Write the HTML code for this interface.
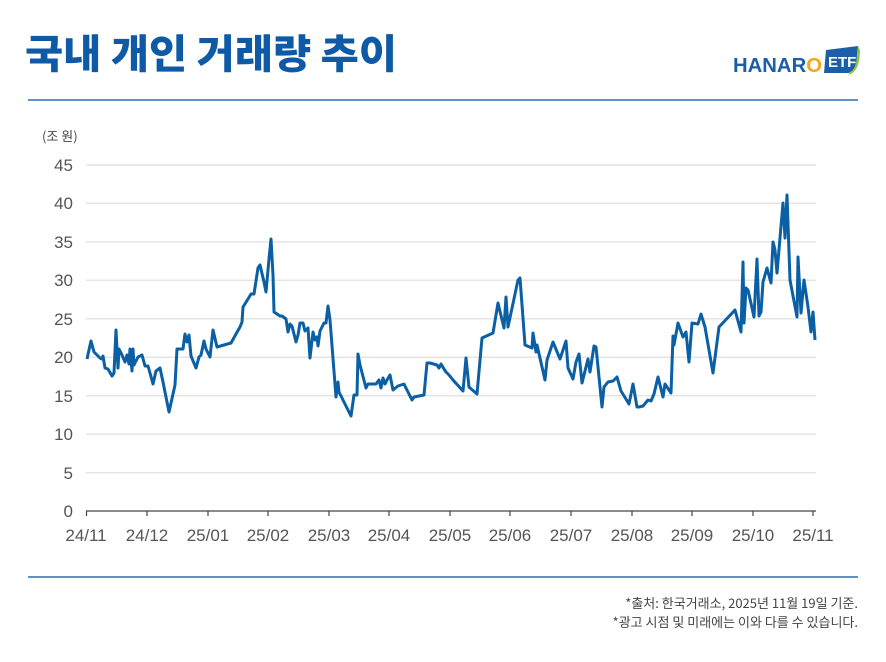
<!DOCTYPE html>
<html><head><meta charset="utf-8"><style>
body{margin:0;background:#fff;width:886px;height:657px;overflow:hidden;font-family:"Liberation Sans","Noto Sans CJK KR",sans-serif}
</style></head><body>
<svg width="886" height="657" xmlns="http://www.w3.org/2000/svg" font-family="Liberation Sans, Noto Sans CJK KR, sans-serif">
<text x="25" y="68" font-size="40" font-weight="900" fill="#0e5aa7" textLength="372" lengthAdjust="spacingAndGlyphs" font-family="Noto Sans CJK KR, sans-serif">국내 개인 거래량 추이</text>
<text x="733" y="72" font-size="20" font-weight="bold" fill="#1a5ea8" textLength="89" lengthAdjust="spacingAndGlyphs">HANAR<tspan fill="#f3a81b">O</tspan></text>
<path d="M826 50 L858 46 L856 66 Q855 72 848 73 L824 73 Z" fill="#1c5fa8"/>
<path d="M850 72 Q857 70 858 46 L860 50 Q860 72 848 75 Z" fill="#8dc63f"/>
<text x="828" y="67" font-size="15" font-weight="bold" fill="#fff">ETF</text>
<line x1="28" y1="100" x2="858" y2="100" stroke="#2a6fb5" stroke-width="1.5"/>
<line x1="28" y1="577" x2="858" y2="577" stroke="#2a6fb5" stroke-width="1.5"/>
<text x="42" y="141" font-size="13" fill="#444" font-family="Noto Sans CJK KR, sans-serif">(조 원)</text>
<g stroke="#e4e4e4" stroke-width="1.5">
<line x1="86" x2="816" y1="472.6" y2="472.6"/><line x1="86" x2="816" y1="434.1" y2="434.1"/>
<line x1="86" x2="816" y1="395.7" y2="395.7"/><line x1="86" x2="816" y1="357.2" y2="357.2"/>
<line x1="86" x2="816" y1="318.8" y2="318.8"/><line x1="86" x2="816" y1="280.3" y2="280.3"/>
<line x1="86" x2="816" y1="241.9" y2="241.9"/><line x1="86" x2="816" y1="203.4" y2="203.4"/>
<line x1="86" x2="816" y1="165" y2="165"/>
</g>
<g font-size="17" fill="#555" text-anchor="end">
<text x="73" y="517">0</text><text x="73" y="479">5</text><text x="73" y="440">10</text>
<text x="73" y="402">15</text><text x="73" y="363">20</text><text x="73" y="325">25</text>
<text x="73" y="286">30</text><text x="73" y="248">35</text><text x="73" y="209">40</text>
<text x="73" y="171">45</text>
</g>
<line x1="86" y1="511" x2="816" y2="511" stroke="#444" stroke-width="1.2"/>
<g stroke="#444" stroke-width="1.2">
<line x1="86.5" y1="511" x2="86.5" y2="516"/><line x1="147" y1="511" x2="147" y2="516"/>
<line x1="208" y1="511" x2="208" y2="516"/><line x1="268" y1="511" x2="268" y2="516"/>
<line x1="329" y1="511" x2="329" y2="516"/><line x1="389" y1="511" x2="389" y2="516"/>
<line x1="450" y1="511" x2="450" y2="516"/><line x1="510" y1="511" x2="510" y2="516"/>
<line x1="571" y1="511" x2="571" y2="516"/><line x1="632" y1="511" x2="632" y2="516"/>
<line x1="692" y1="511" x2="692" y2="516"/><line x1="753" y1="511" x2="753" y2="516"/>
<line x1="813" y1="511" x2="813" y2="516"/>
</g>
<g font-size="17" fill="#555" text-anchor="middle">
<text x="86" y="541">24/11</text><text x="147" y="541">24/12</text><text x="208" y="541">25/01</text>
<text x="268" y="541">25/02</text><text x="329" y="541">25/03</text><text x="389" y="541">25/04</text>
<text x="450" y="541">25/05</text><text x="510" y="541">25/06</text><text x="571" y="541">25/07</text>
<text x="632" y="541">25/08</text><text x="692" y="541">25/09</text><text x="753" y="541">25/10</text>
<text x="813" y="541">25/11</text>
</g>
<polyline fill="none" stroke="#0b5fa5" stroke-width="3" stroke-linejoin="round" points="87,359 91,341 94,352 100,358 102,359 103,356 105,368 108,369 112,376 114,373 116,330 118,368 119,349 122,355 125,362 127,355 129,364 130,349 132,371 133,349 134,365 138,357 142,355 145,366 148,366 150,373 153,384 156,371 160,368 163,382 169,412 175,385 177,349 183,349 185,334 187,342 189,335 191,356 196,368 199,357 201,355 204,341 206,349 210,357 213,330 217,347 231,343 236,334 240,327 242,322 243,307 248,299 251,294 254,294 258,268 260,265 264,282 266,292 269,259 271,239 273,275 274,312 280,316 282,316 286,319 288,332 290,324 292,326 296,342 298,335 300,323 303,323 305,331 308,328 310,358 313,332 315,340 317,337 318,346 320,331 322,327 324,323 326,323 328,306 330,320 336,397 338,382 339,392 344,402 351,416 354,395 357,395 358,354 360,365 366,388 368,384 370,384 376,384 379,380 381,388 383,378 385,384 387,380 390,375 393,390 398,386 404,384 407,390 412,400 414,397 424,395 427,363 430,363 437,365 439,368 441,364 444,369 446,372 449,375 453,380 463,391 466,358 469,387 477,394 482,338 493,333 498,303 504,328 506,297 508,327 518,280 520,278 525,345 532,348 533,333 536,352 537,345 545,380 547,360 553,342 560,359 566,341 568,368 573,379 576,362 579,354 582,383 588,359 590,372 594,346 596,347 602,407 604,387 608,382 613,381 617,377 621,391 629,404 633,384 637,407 639,407 643,406 648,400 651,401 654,394 658,377 663,397 665,384 671,393 673,336 674,345 678,323 683,337 686,332 689,362 692,323 698,324 701,314 705,327 713,373 719,327 735,310 741,332 743,262 744,323 746,288 748,290 754,317 757,259 759,316 761,312 763,282 767,268 771,283 773,242 775,250 777,273 783,203 785,238 787,195 790,280 797,317 798,257 801,313 804,280 808,307 811,332 813,312 815,340"/>
<g font-size="13" fill="#444" text-anchor="end" font-family="Noto Sans CJK KR, sans-serif">
<text x="858" y="608">*출처: 한국거래소, 2025년 11월 19일 기준.</text>
<text x="858" y="627">*광고 시점 및 미래에는 이와 다를 수 있습니다.</text>
</g>
</svg>
</body></html>
